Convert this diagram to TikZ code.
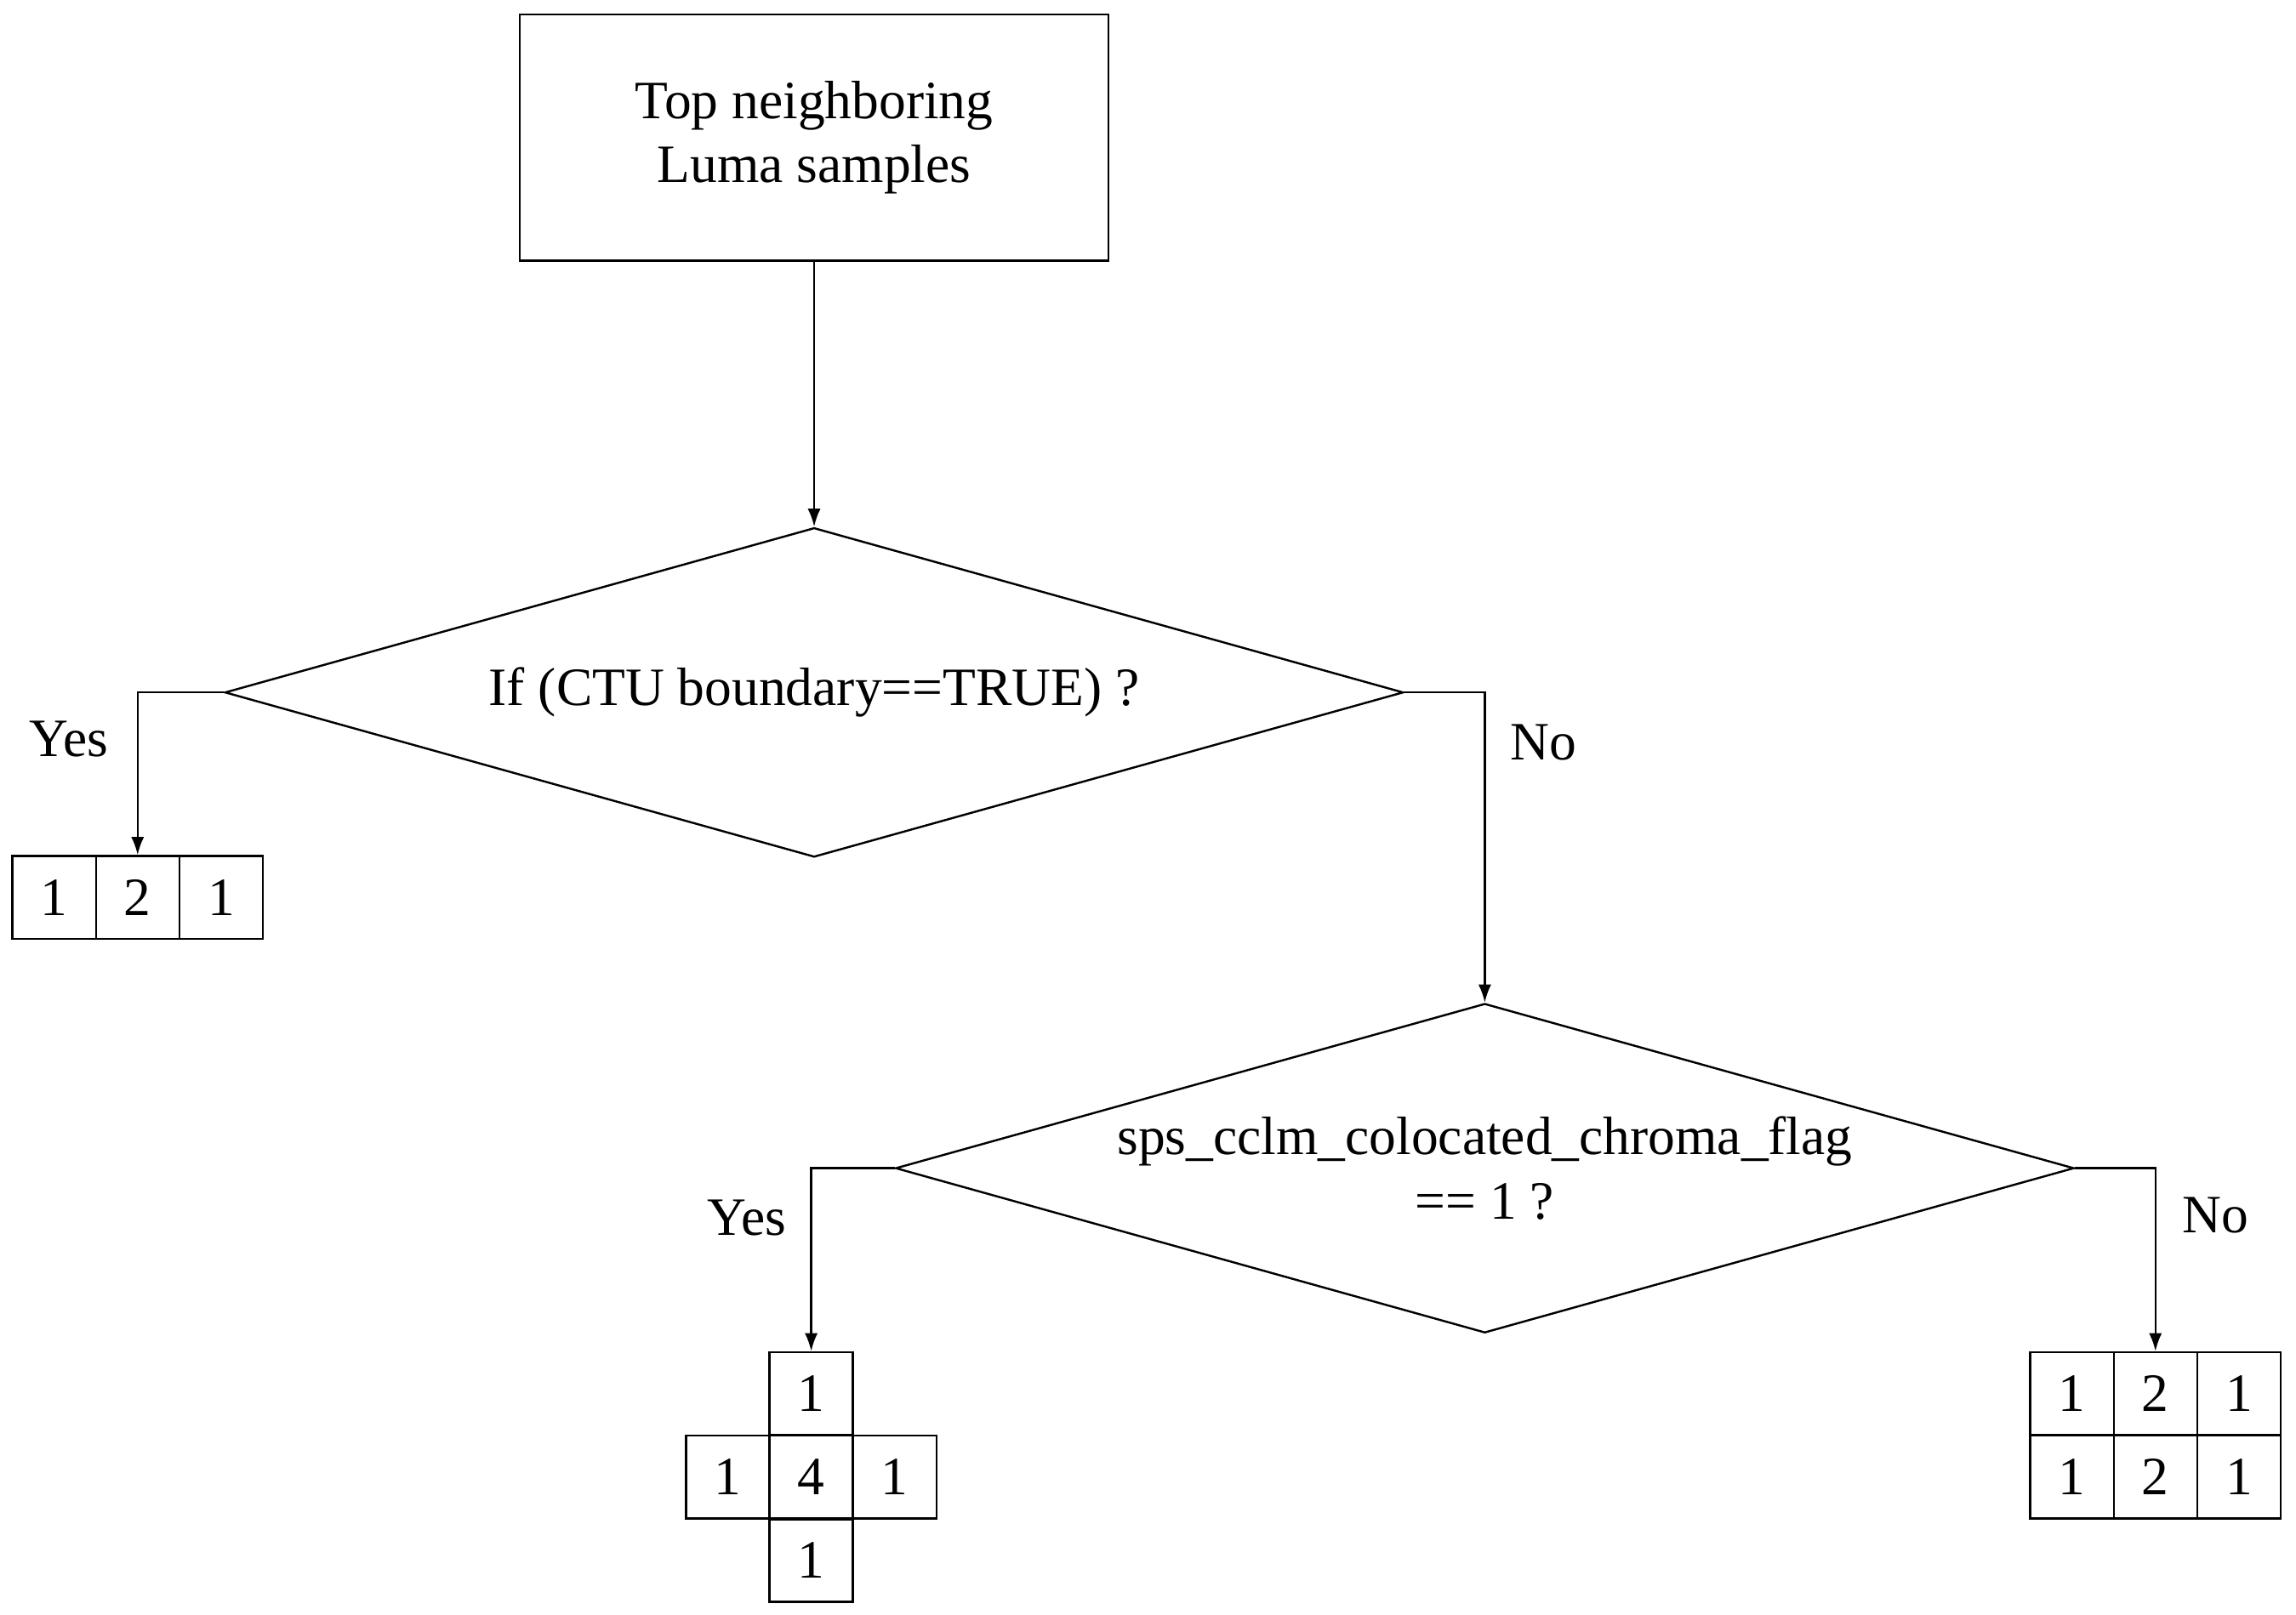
\documentclass[tikz,border=0pt]{standalone}
\usepackage{fontspec}
\setmainfont{Liberation Serif}
\usetikzlibrary{shapes.geometric,arrows.meta}
\begin{document}
\begin{tikzpicture}[x=0.02cm,y=-0.02cm,
  every node/.style={font=\fontsize{21}{25}\selectfont},
  box/.style={draw,line width=0.8pt,minimum width=8.04cm,minimum height=3.36cm,align=center,inner sep=0},
  dia/.style={draw,line width=0.8pt,diamond,aspect=3.58,minimum width=16.1cm,minimum height=4.5cm,inner sep=0,align=center},
  cell/.style={draw,line width=0.8pt,minimum width=1.14cm,minimum height=1.13cm,inner sep=0},
  arr/.style={line width=0.8pt,-{Latex[length=7pt,width=5pt]}},
  lbl/.style={inner sep=0}]
\useasboundingbox (0,0) rectangle (1568,1103);
\node[box] (top) at (556,94) {Top neighboring\\Luma samples};
\node[dia] (d1) at (556,473) {If (CTU boundary==TRUE) ?};
\node[dia] (d2) at (1014,798) {sps\_cclm\_colocated\_chroma\_flag\\== 1 ?};
% grid 1
\node[cell] (a1) at (37,613) {1};
\node[cell] (a2) at (94,613) {2};
\node[cell] (a3) at (151,613) {1};
% cross
\node[cell] (c0) at (554,1009) {4};
\node[cell] (cT) at (554,952) {1};
\node[cell] (cB) at (554,1066) {1};
\node[cell] (cL) at (497,1009) {1};
\node[cell] (cR) at (611,1009) {1};
% grid 2x3
\node[cell] (g11) at (1415,952) {1};
\node[cell] (g12) at (1472,952) {2};
\node[cell] (g13) at (1529,952) {1};
\node[cell] (g21) at (1415,1009) {1};
\node[cell] (g22) at (1472,1009) {2};
\node[cell] (g23) at (1529,1009) {1};
\draw[arr] (top.south) -- (d1.north);
\draw[arr] (d1.west) -| (a2.north);
\draw[arr] (d1.east) -| (d2.north);
\draw[arr] (d2.west) -| (cT.north);
\draw[arr] (d2.east) -| (g12.north);
\node[lbl] (y1) at (47,505) {Yes};
\node[lbl] (n1) at (1054,507) {No};
\node[lbl] (y2) at (510,832) {Yes};
\node[lbl] (n2) at (1513,830) {No};
\end{tikzpicture}
\end{document}
